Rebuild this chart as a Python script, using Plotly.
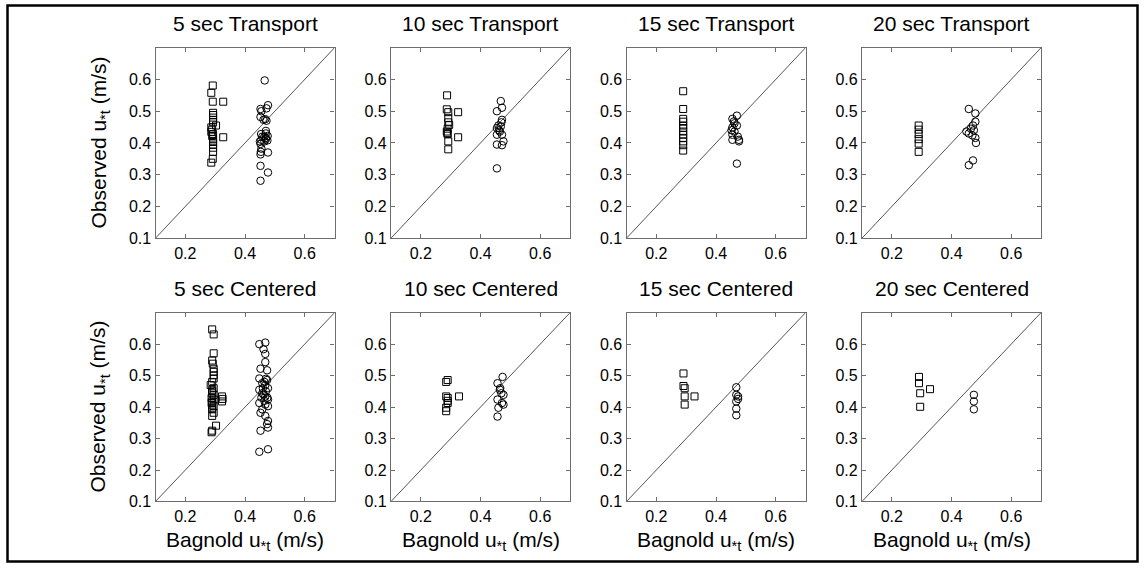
import plotly.graph_objects as go

# ---- data: Bagnold vs observed threshold shear velocity (m/s) ----
# square markers = first site, circle markers = second site

t5_sq_x = [0.292, 0.287, 0.292, 0.327, 0.293, 0.293, 0.293, 0.293, 0.293, 0.303, 0.287, 0.290,
           0.287, 0.293, 0.290, 0.327, 0.293, 0.293, 0.293, 0.293, 0.293, 0.292, 0.287]
t5_sq_y = [0.581, 0.558, 0.530, 0.530, 0.495, 0.488, 0.480, 0.472, 0.465, 0.455, 0.449, 0.442,
           0.435, 0.428, 0.422, 0.418, 0.412, 0.403, 0.395, 0.385, 0.372, 0.350, 0.338]
t5_ci_x = [0.466, 0.452, 0.455, 0.477, 0.472, 0.452, 0.462, 0.468, 0.470, 0.454, 0.458, 0.470,
           0.476, 0.465, 0.452, 0.455, 0.453, 0.452, 0.477, 0.452, 0.477, 0.452, 0.470, 0.475,
           0.465, 0.455, 0.450, 0.470, 0.472]
t5_ci_y = [0.597, 0.507, 0.500, 0.519, 0.509, 0.482, 0.473, 0.475, 0.438, 0.428, 0.420, 0.416,
           0.422, 0.405, 0.397, 0.382, 0.372, 0.364, 0.370, 0.328, 0.307, 0.281, 0.412, 0.408,
           0.420, 0.410, 0.405, 0.430, 0.470]

t10_sq_x = [0.288, 0.287, 0.292, 0.325, 0.292, 0.292, 0.295, 0.287, 0.289, 0.325, 0.292, 0.292,
            0.290, 0.290]
t10_sq_y = [0.550, 0.506, 0.497, 0.497, 0.478, 0.465, 0.457, 0.436, 0.431, 0.418, 0.405, 0.380,
            0.445, 0.428]
t10_ci_x = [0.468, 0.472, 0.455, 0.472, 0.460, 0.468, 0.455, 0.465, 0.472, 0.455, 0.477, 0.455,
            0.472, 0.455, 0.470, 0.462]
t10_ci_y = [0.532, 0.511, 0.500, 0.473, 0.455, 0.452, 0.447, 0.436, 0.426, 0.426, 0.405, 0.395,
            0.393, 0.320, 0.465, 0.440]

t15_sq_x = [0.290] * 12
t15_sq_y = [0.563, 0.507, 0.476, 0.467, 0.455, 0.447, 0.436, 0.426, 0.416, 0.405, 0.393, 0.376]
t15_ci_x = [0.470, 0.455, 0.462, 0.455, 0.470, 0.462, 0.455, 0.473, 0.455, 0.477, 0.477, 0.470,
            0.460, 0.452]
t15_ci_y = [0.486, 0.476, 0.462, 0.449, 0.455, 0.436, 0.426, 0.420, 0.410, 0.410, 0.405, 0.335,
            0.468, 0.440]

t20_sq_x = [0.290] * 6
t20_sq_y = [0.455, 0.442, 0.428, 0.412, 0.398, 0.372]
t20_ci_x = [0.458, 0.480, 0.480, 0.472, 0.450, 0.458, 0.470, 0.480, 0.482, 0.472, 0.458, 0.465,
            0.475]
t20_ci_y = [0.507, 0.493, 0.467, 0.455, 0.436, 0.430, 0.424, 0.416, 0.400, 0.345, 0.330, 0.445,
            0.440]

c5_sq_x = [0.290, 0.295, 0.295, 0.290, 0.292, 0.295, 0.295, 0.295, 0.295, 0.285, 0.295, 0.290,
           0.295, 0.288, 0.295, 0.288, 0.295, 0.290, 0.295, 0.290, 0.323, 0.323, 0.325, 0.303,
           0.290, 0.288, 0.290, 0.290, 0.290, 0.290, 0.290, 0.290]
c5_sq_y = [0.647, 0.631, 0.571, 0.548, 0.538, 0.522, 0.512, 0.501, 0.491, 0.470, 0.460, 0.444,
           0.439, 0.429, 0.424, 0.413, 0.403, 0.393, 0.382, 0.372, 0.434, 0.418, 0.426, 0.341,
           0.325, 0.320, 0.480, 0.455, 0.450, 0.418, 0.408, 0.398]
c5_ci_x = [0.448, 0.468, 0.462, 0.468, 0.468, 0.474, 0.452, 0.448, 0.474, 0.458, 0.468, 0.477,
           0.448, 0.458, 0.468, 0.477, 0.448, 0.468, 0.477, 0.458, 0.452, 0.468, 0.477, 0.474,
           0.477, 0.452, 0.448, 0.477, 0.465, 0.460, 0.470, 0.455, 0.465, 0.470, 0.462, 0.475]
c5_ci_y = [0.600, 0.605, 0.584, 0.569, 0.543, 0.517, 0.522, 0.491, 0.486, 0.476, 0.470, 0.460,
           0.455, 0.444, 0.434, 0.424, 0.413, 0.408, 0.403, 0.393, 0.382, 0.372, 0.356, 0.346,
           0.335, 0.325, 0.258, 0.266, 0.480, 0.460, 0.450, 0.430, 0.420, 0.490, 0.440, 0.430]

c10_sq_x = [0.290, 0.285, 0.285, 0.290, 0.328, 0.290, 0.285, 0.285, 0.290]
c10_sq_y = [0.486, 0.480, 0.434, 0.429, 0.434, 0.413, 0.398, 0.387, 0.420]
c10_ci_x = [0.457, 0.474, 0.466, 0.470, 0.477, 0.457, 0.472, 0.477, 0.460, 0.457, 0.465]
c10_ci_y = [0.476, 0.496, 0.460, 0.444, 0.439, 0.424, 0.413, 0.408, 0.398, 0.370, 0.455]

c15_sq_x = [0.291, 0.291, 0.295, 0.295, 0.328, 0.295]
c15_sq_y = [0.507, 0.467, 0.460, 0.434, 0.434, 0.408]
c15_ci_x = [0.468, 0.468, 0.474, 0.474, 0.468, 0.468, 0.468]
c15_ci_y = [0.463, 0.439, 0.434, 0.426, 0.418, 0.395, 0.374]

c20_sq_x = [0.291, 0.291, 0.295, 0.328, 0.295]
c20_sq_y = [0.496, 0.476, 0.444, 0.457, 0.401]
c20_ci_x = [0.475, 0.475, 0.475]
c20_ci_y = [0.439, 0.418, 0.393]

panel_titles = ["5 sec Transport", "10 sec Transport", "15 sec Transport", "20 sec Transport",
                "5 sec Centered", "10 sec Centered", "15 sec Centered", "20 sec Centered"]
x_ticks = [0.2, 0.4, 0.6]
y_ticks = [0.1, 0.2, 0.3, 0.4, 0.5, 0.6]
axis_range = [0.1, 0.7]

panels = [
    (t5_sq_x, t5_sq_y, t5_ci_x, t5_ci_y),
    (t10_sq_x, t10_sq_y, t10_ci_x, t10_ci_y),
    (t15_sq_x, t15_sq_y, t15_ci_x, t15_ci_y),
    (t20_sq_x, t20_sq_y, t20_ci_x, t20_ci_y),
    (c5_sq_x, c5_sq_y, c5_ci_x, c5_ci_y),
    (c10_sq_x, c10_sq_y, c10_ci_x, c10_ci_y),
    (c15_sq_x, c15_sq_y, c15_ci_x, c15_ci_y),
    (c20_sq_x, c20_sq_y, c20_ci_x, c20_ci_y),
]

# ---- layout geometry (pixels) ----
W, H = 1145, 573
col_left = [155.5, 391.0, 626.5, 862.0]
col_width = 179.0
row_top = [48.5, 317.7]
row_height = [193.5, 191.8]

FONT = "Arial, Liberation Sans, Helvetica, sans-serif"
AX_COLOR = "#6e6e6e"

fig = go.Figure()
layout = dict(
    width=W, height=H,
    margin=dict(l=0, r=0, t=0, b=0),
    paper_bgcolor="white", plot_bgcolor="white",
    showlegend=False,
    font=dict(family=FONT, color="black"),
)
annotations = []

for i, (sx, sy, cx, cy) in enumerate(panels):
    r, c = divmod(i, 4)
    n = "" if i == 0 else str(i + 1)
    xa, ya = "x" + n, "y" + n

    x0 = col_left[c] / W
    x1 = (col_left[c] + col_width) / W
    y1 = 1 - row_top[r] / H
    y0 = 1 - (row_top[r] + row_height[r]) / H

    # 1:1 reference line
    fig.add_trace(go.Scatter(x=axis_range, y=axis_range, mode="lines",
                             line=dict(color="#555555", width=1),
                             xaxis=xa, yaxis=ya, hoverinfo="skip"))
    fig.add_trace(go.Scatter(x=sx, y=sy, mode="markers",
                             marker=dict(symbol="square-open", size=7,
                                         color="black", line=dict(width=1)),
                             xaxis=xa, yaxis=ya))
    fig.add_trace(go.Scatter(x=cx, y=cy, mode="markers",
                             marker=dict(symbol="circle-open", size=7.5,
                                         color="black", line=dict(width=1)),
                             xaxis=xa, yaxis=ya))

    common = dict(range=axis_range, showgrid=False, zeroline=False,
                  showline=True, linecolor=AX_COLOR, linewidth=1.3,
                  mirror="ticks", ticks="inside", ticklen=4,
                  tickcolor=AX_COLOR, tickwidth=1,
                  tickfont=dict(family=FONT, size=16, color="black"),
                  fixedrange=True)
    layout["xaxis" + n] = dict(common, domain=[x0, x1], anchor=ya,
                               tickvals=x_ticks, ticktext=[f"{v:.1f}" for v in x_ticks])
    layout["yaxis" + n] = dict(common, domain=[y0, y1], anchor=xa,
                               tickvals=y_ticks, ticktext=[f"{v:.1f}" for v in y_ticks])

    annotations.append(dict(text=panel_titles[i], xref="paper", yref="paper",
                            x=(x0 + x1) / 2, y=y1 + 11 / H,
                            xanchor="center", yanchor="bottom", showarrow=False,
                            font=dict(family=FONT, size=21, color="black")))
    if r == 1:
        annotations.append(dict(text="Bagnold u<sub>*t</sub> (m/s)", xref="paper", yref="paper",
                                x=(x0 + x1) / 2, y=y0 - 25 / H,
                                xanchor="center", yanchor="top", showarrow=False,
                                font=dict(family=FONT, size=21, color="black")))
    if c == 0:
        annotations.append(dict(text="Observed u<sub>*t</sub> (m/s)", xref="paper", yref="paper",
                                x=(x0 * W - 41) / W, y=(y0 + y1) / 2,
                                xanchor="right", yanchor="middle", textangle=-90,
                                showarrow=False,
                                font=dict(family=FONT, size=21, color="black")))

layout["annotations"] = annotations
# outer frame around the whole figure
layout["shapes"] = [dict(type="rect", xref="paper", yref="paper",
                         x0=7.5 / W, x1=1 - 7.5 / W, y0=2.5 / H, y1=1 - 5.5 / H,
                         line=dict(color="black", width=2.5))]

fig.update_layout(**layout)
fig.write_html("out.html")
